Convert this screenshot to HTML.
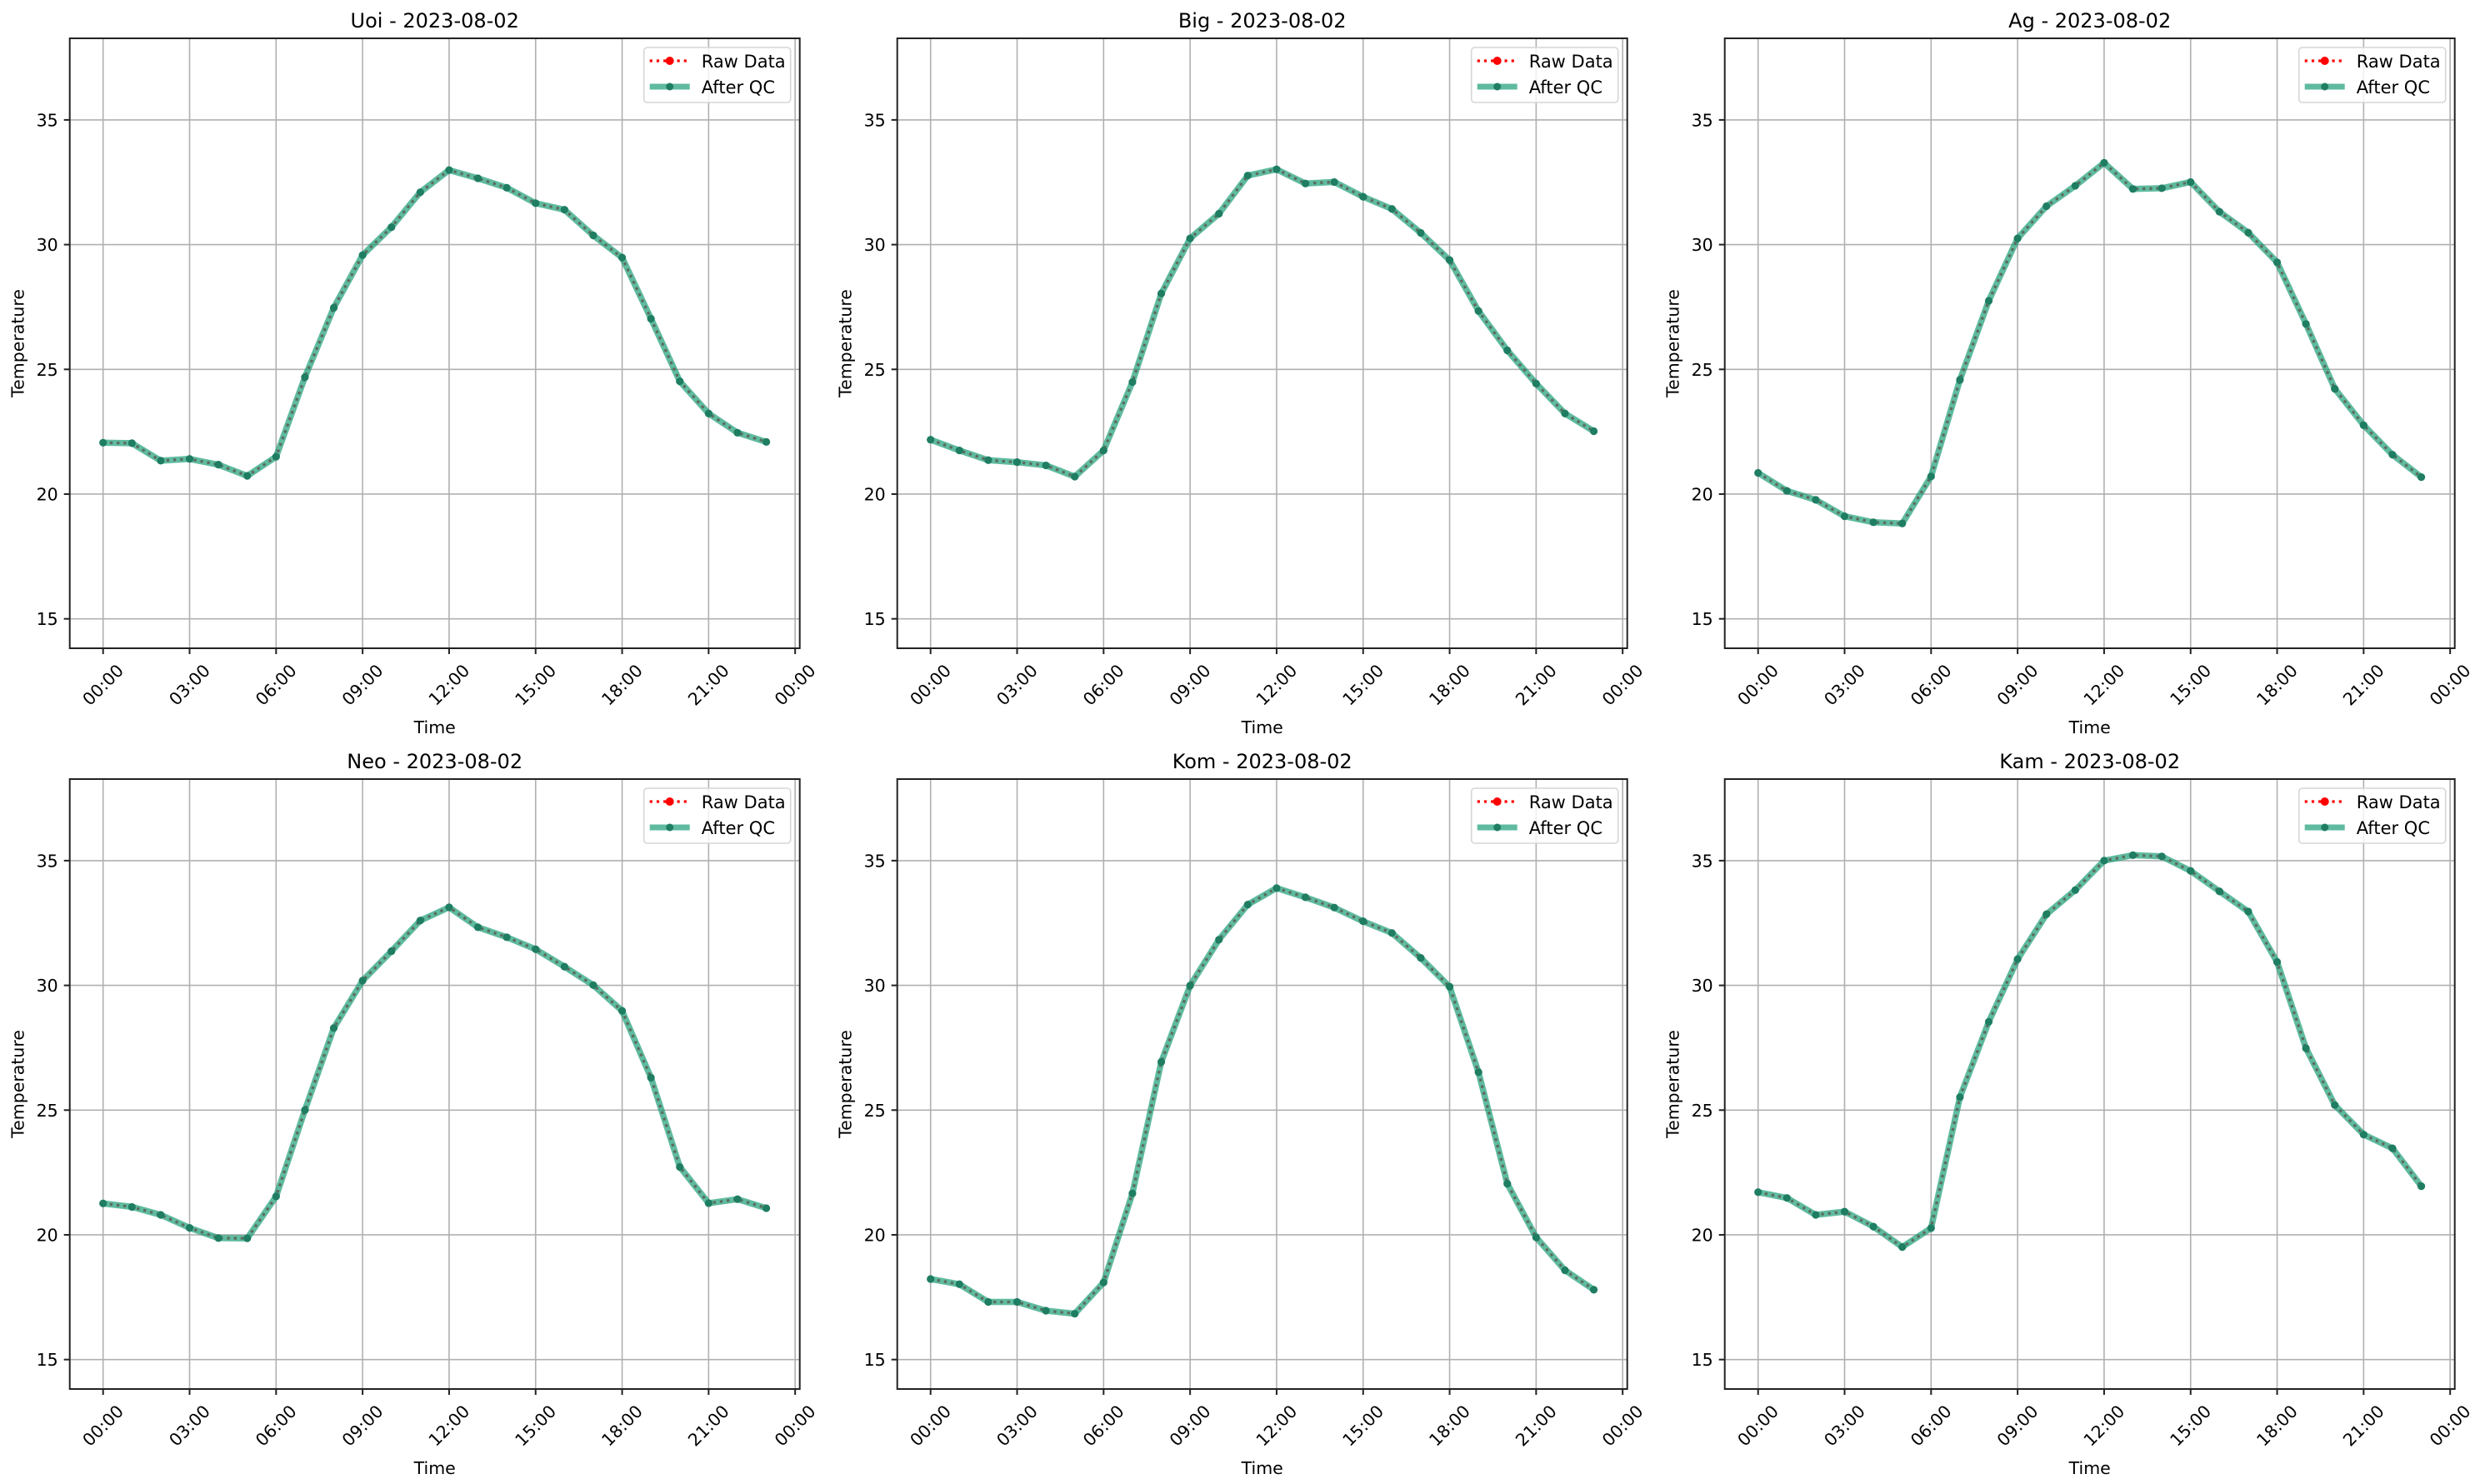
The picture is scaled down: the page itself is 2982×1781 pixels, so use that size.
<!DOCTYPE html>
<html><head><meta charset="utf-8"><style>
html,body{margin:0;padding:0;background:#fff;}
svg{display:block;font-family:"DejaVu Sans","Liberation Sans",sans-serif;}
</style></head><body>
<svg id="fig" xmlns="http://www.w3.org/2000/svg" width="2982" height="1781" viewBox="0 0 2982 1781"></svg>
<script>
const stations = ["Uoi","Big","Ag","Neo","Kom","Kam"];
const dateLabel = "2023-08-02";
const hours = [0,1,2,3,4,5,6,7,8,9,10,11,12,13,14,15,16,17,18,19,20,21,22,23];
const uoiTemps = [22.06,22.04,21.34,21.41,21.18,20.73,21.50,24.69,27.47,29.58,30.70,32.10,32.99,32.66,32.28,31.66,31.40,30.37,29.48,27.03,24.52,23.23,22.46,22.09];
const bigTemps = [22.18,21.75,21.36,21.28,21.15,20.70,21.75,24.49,28.04,30.25,31.24,32.77,33.02,32.45,32.51,31.92,31.43,30.47,29.38,27.34,25.76,24.43,23.23,22.52];
const agTemps = [20.85,20.13,19.77,19.11,18.87,18.82,20.71,24.58,27.75,30.25,31.54,32.36,33.28,32.23,32.26,32.51,31.32,30.48,29.29,26.82,24.22,22.76,21.58,20.68];
const neoTemps = [21.26,21.12,20.80,20.28,19.87,19.86,21.54,25.00,28.29,30.19,31.37,32.60,33.13,32.33,31.93,31.45,30.75,30.01,28.98,26.30,22.72,21.27,21.43,21.07];
const komTemps = [18.23,18.02,17.31,17.31,16.96,16.84,18.09,21.66,26.93,29.99,31.83,33.24,33.90,33.53,33.12,32.57,32.10,31.10,29.95,26.52,22.05,19.90,18.58,17.80];
const kamTemps = [21.71,21.48,20.80,20.93,20.33,19.51,20.27,25.52,28.54,31.05,32.85,33.82,35.00,35.22,35.17,34.59,33.77,32.96,30.94,27.48,25.20,24.02,23.47,21.95];
const xTickHours = [0,3,6,9,12,15,18,21,24];
const xTickLabels = ["00:00","03:00","06:00","09:00","12:00","15:00","18:00","21:00","00:00"];
const yTicks = [15,20,25,30,35];
const yMin = 13.82, yMax = 38.27, xMin = -1.156, xMax = 24.16;

const allSeries = [uoiTemps,bigTemps,agTemps,neoTemps,komTemps,kamTemps];
const NS = "http://www.w3.org/2000/svg";
const fig = document.getElementById("fig");
function mk(tag, attrs, parent){
  const e = document.createElementNS(NS, tag);
  for (const k in attrs) e.setAttribute(k, attrs[k]);
  parent.appendChild(e);
  return e;
}
const colLeft = [83.7,1076.7,2069.7], rowTop = [46,935], W = 876, H = 732;

stations.forEach((name, i) => {
  const L = colLeft[i % 3], T = rowTop[Math.floor(i / 3)];
  const xs = h => L + (h - xMin) / (xMax - xMin) * W;
  const ys = v => T + (yMax - v) / (yMax - yMin) * H;
  const g = mk("g", {}, fig);
  
  

  xTickHours.forEach(h => {
    const gl = mk("line", {x1: xs(h), x2: xs(h), y1: T, y2: T + H, stroke: "#b0b0b0", "stroke-width": 1.6}, g);
    
    
  });
  yTicks.forEach(v => {
    const gl = mk("line", {x1: L, x2: L + W, y1: ys(v), y2: ys(v), stroke: "#b0b0b0", "stroke-width": 1.6}, g);
    
    
  });

  const data = allSeries[i];
  const pts = hours.map((h, k) => xs(h).toFixed(1) + "," + ys(data[k]).toFixed(1)).join(" ");
  const raw = mk("polyline", {points: pts, fill: "none", stroke: "#ff0000", "stroke-width": 3.2, "stroke-dasharray": "3.2 5", "stroke-linejoin": "round"}, g);
  
  
  const qc = mk("polyline", {points: pts, fill: "none", stroke: "#1b9e77", "stroke-opacity": 0.7, "stroke-width": 7.5, "stroke-linejoin": "round"}, g);
  
  
  const dot = mk("polyline", {points: pts, fill: "none", stroke: "#5c6a60", "stroke-width": 3, "stroke-dasharray": "3.2 5", "stroke-opacity": 0.8}, g);
  
  
  hours.forEach((h, k) => {
    const c = mk("circle", {cx: xs(h), cy: ys(data[k]), r: 4.6, fill: "#1f7d62"}, g);
    
    
  });

  const fr = mk("rect", {x: L, y: T, width: W, height: H, fill: "none", stroke: "#222", "stroke-width": 2}, g);
  
  

  xTickHours.forEach((h, k) => {
    const tk = mk("line", {x1: xs(h), x2: xs(h), y1: T + H, y2: T + H + 7, stroke: "#222", "stroke-width": 2}, g);
    
    
    const cx = xs(h), cy = T + H + 44;
    const tx = mk("text", {x: cx, y: cy, "font-size": 20.5, "text-anchor": "middle", "dominant-baseline": "central", fill: "#000", transform: "rotate(-45 " + cx + " " + cy + ")"}, g);
    tx.textContent = xTickLabels[k];
    
    
  });
  yTicks.forEach(v => {
    const tk = mk("line", {x1: L - 7, x2: L, y1: ys(v), y2: ys(v), stroke: "#222", "stroke-width": 2}, g);
    
    
    const tx = mk("text", {x: L - 14, y: ys(v) + 7.5, "font-size": 20.5, "text-anchor": "end", fill: "#000"}, g);
    tx.textContent = String(v);
    
    
  });

  const ti = mk("text", {x: L + W / 2, y: T - 13, "font-size": 24, "text-anchor": "middle", fill: "#000"}, g);
  ti.textContent = name + " - " + dateLabel;
  
  
  const xl = mk("text", {x: L + W / 2, y: T + H + 102, "font-size": 20.5, "text-anchor": "middle", fill: "#000"}, g);
  xl.textContent = "Time";
  
  
  const ylx = L - 62, yly = T + H / 2;
  const yl = mk("text", {x: ylx, y: yly, "font-size": 20.5, "text-anchor": "middle", "dominant-baseline": "central", fill: "#000", transform: "rotate(-90 " + ylx + " " + yly + ")"}, g);
  yl.textContent = "Temperature";
  
  

  const lg = mk("g", {}, g);
  
  
  const lx = L + W - 187, ly = T + 11;
  mk("rect", {x: lx, y: ly, width: 176, height: 66, rx: 4, fill: "#fff", "fill-opacity": 0.8, stroke: "#d6d6d6", "stroke-width": 1.6}, lg);
  const r1 = ly + 16, r2 = ly + 47;
  const lr = mk("line", {x1: lx + 7, x2: lx + 55, y1: r1, y2: r1, stroke: "#ff0000", "stroke-width": 3.2, "stroke-dasharray": "3.2 5"}, lg);
  
  
  mk("circle", {cx: lx + 31, cy: r1, r: 5, fill: "#ff0000"}, lg);
  const t1 = mk("text", {x: lx + 69, y: r1 + 8, "font-size": 21, fill: "#000"}, lg);
  t1.textContent = "Raw Data";
  
  
  const lq = mk("line", {x1: lx + 7, x2: lx + 55, y1: r2, y2: r2, stroke: "#1b9e77", "stroke-opacity": 0.7, "stroke-width": 7}, lg);
  
  
  mk("circle", {cx: lx + 31, cy: r2, r: 4.5, fill: "#1f7d62"}, lg);
  const t2 = mk("text", {x: lx + 69, y: r2 + 8, "font-size": 21, fill: "#000"}, lg);
  t2.textContent = "After QC";
  
  
});
</script>
</body></html>
